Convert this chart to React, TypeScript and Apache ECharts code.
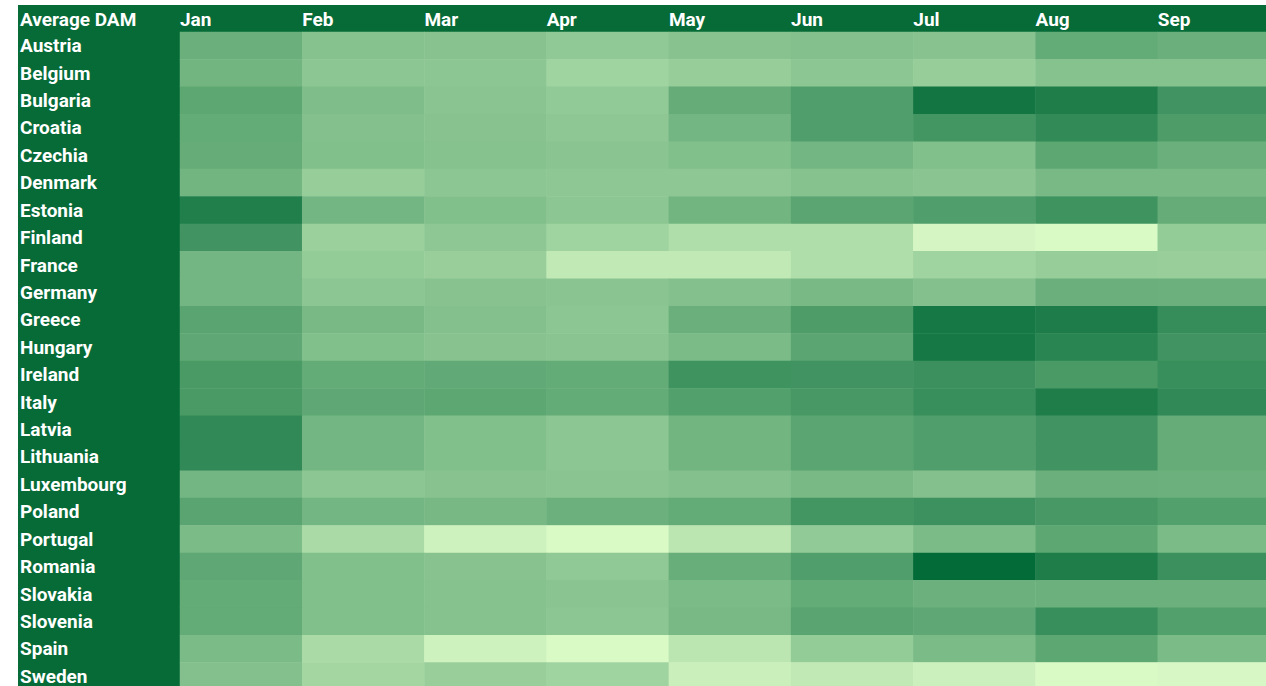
import React, { useEffect, useRef } from "react";
import * as echarts from "echarts";

const months = ["Jan", "Feb", "Mar", "Apr", "May", "Jun", "Jul", "Aug", "Sep"];
const countries = [
  "Austria", "Belgium", "Bulgaria", "Croatia", "Czechia", "Denmark", "Estonia", "Finland",
  "France", "Germany", "Greece", "Hungary", "Ireland", "Italy", "Latvia", "Lithuania",
  "Luxembourg", "Poland", "Portugal", "Romania", "Slovakia", "Slovenia", "Spain", "Sweden",
];

const austria = [84.8, 66.8, 65.4, 59.9, 65.4, 68.2, 65.4, 88.9, 84.8];
const belgium = [79.2, 62.7, 62.7, 50.3, 55.8, 62.7, 55.8, 66.8, 66.8];
const bulgaria = [93.0, 71.0, 64.1, 58.5, 87.5, 101.3, 141.3, 133.1, 111.0];
const croatia = [88.9, 68.2, 65.4, 61.3, 77.9, 101.3, 109.6, 120.6, 102.7];
const czechia = [87.5, 69.6, 66.8, 64.1, 69.6, 77.9, 69.6, 93.0, 84.8];
const denmark = [79.2, 55.8, 62.7, 61.3, 61.3, 66.8, 64.1, 75.1, 75.1];
const estonia = [131.7, 77.9, 69.6, 62.7, 79.2, 94.4, 101.3, 112.4, 87.5];
const finland = [111.0, 53.0, 61.3, 50.3, 39.2, 39.2, 15.8, 13.0, 57.2];
const france = [77.9, 57.2, 54.4, 28.2, 28.2, 39.2, 50.3, 55.8, 54.4];
const germany = [77.9, 62.7, 65.4, 64.1, 68.2, 75.1, 68.2, 84.8, 83.4];
const greece = [95.8, 75.1, 68.2, 62.7, 84.8, 102.7, 138.6, 134.4, 117.9];
const hungary = [91.7, 69.6, 65.4, 64.1, 73.7, 94.4, 138.6, 126.2, 111.0];
const ireland = [105.5, 88.9, 90.3, 88.9, 112.4, 111.0, 115.1, 105.5, 116.5];
const italy = [105.5, 91.7, 93.0, 88.9, 99.9, 106.8, 116.5, 133.1, 122.0];
const latvia = [122.0, 77.9, 69.6, 62.7, 79.2, 94.4, 101.3, 111.0, 87.5];
const lithuania = [122.0, 77.9, 69.6, 62.7, 79.2, 94.4, 101.3, 111.0, 87.5];
const luxembourg = [77.9, 62.7, 65.4, 64.1, 68.2, 75.1, 68.2, 84.8, 83.4];
const poland = [95.8, 77.9, 76.5, 83.4, 88.9, 109.6, 113.7, 106.8, 99.9];
const portugal = [73.7, 43.4, 19.9, 13.0, 32.3, 58.5, 73.7, 93.0, 73.7];
const romania = [91.7, 69.6, 65.4, 59.9, 86.1, 101.3, 151.0, 133.1, 115.1];
const slovakia = [88.9, 69.6, 66.8, 64.1, 73.7, 88.9, 83.4, 83.4, 83.4];
const slovenia = [88.9, 69.6, 66.8, 62.7, 75.1, 95.8, 91.7, 116.5, 99.9];
const spain = [73.7, 43.4, 19.9, 13.0, 32.3, 57.2, 73.7, 93.0, 73.7];
const sweden = [68.2, 47.5, 54.4, 50.3, 22.7, 28.2, 21.3, 13.0, 14.4];

const rows = [
  austria, belgium, bulgaria, croatia, czechia, denmark, estonia, finland,
  france, germany, greece, hungary, ireland, italy, latvia, lithuania,
  luxembourg, poland, portugal, romania, slovakia, slovenia, spain, sweden,
];

const DARK = "#066B37";
const FONT = "'Roboto', 'DejaVu Sans', sans-serif";

export default function App() {
  const ref = useRef<HTMLDivElement>(null);
  useEffect(() => {
    if (!ref.current) return;
    const chart = echarts.init(ref.current, null, { renderer: "svg" });
    const data: number[][] = [];
    rows.forEach((r, yi) => r.forEach((v, xi) => data.push([xi, yi, v])));
    chart.setOption({
      animation: false,
      backgroundColor: "#ffffff",
      title: {
        text: "Average DAM",
        left: 20,
        top: 10,
        padding: 0,
        textStyle: { color: "#ffffff", fontFamily: FONT, fontWeight: "bold", fontSize: 19 },
      },
      graphic: [
        { type: "rect", z: -10, shape: { x: 18, y: 5, width: 1260, height: 27 }, style: { fill: DARK } },
        { type: "rect", z: -10, shape: { x: 18, y: 5, width: 162, height: 690 }, style: { fill: DARK } },
      ],
      grid: {
        left: 180,
        top: 32,
        width: 1100,
        height: 658,
        containLabel: false,
        outerBoundsMode: "none",
      },
      xAxis: [
        { type: "category", data: months, show: false },
        {
          type: "value",
          position: "top",
          min: 0,
          max: 9,
          interval: 1,
          axisLine: { show: false },
          axisTick: { show: false },
          splitLine: { show: false },
          axisLabel: {
            align: "left",
            margin: 3,
            color: "#ffffff",
            fontFamily: FONT,
            fontWeight: "bold",
            fontSize: 19,
            formatter: (v: number) => months[v] ?? "",
          },
        },
      ],
      yAxis: {
        type: "category",
        data: countries,
        inverse: true,
        axisLine: { show: false },
        axisTick: { show: false },
        splitLine: { show: false },
        axisLabel: {
          align: "left",
          margin: 160,
          color: "#ffffff",
          fontFamily: FONT,
          fontWeight: "bold",
          fontSize: 19,
        },
      },
      visualMap: {
        show: false,
        min: 13,
        max: 151,
        inRange: { color: ["#D9F9C5", "#036B38"] },
      },
      series: [
        {
          type: "heatmap",
          xAxisIndex: 0,
          yAxisIndex: 0,
          data,
          itemStyle: { borderWidth: 0 },
          emphasis: { disabled: true },
        },
      ],
    });
    return () => chart.dispose();
  }, []);
  return (
    <div
      ref={ref}
      style={{ position: "fixed", left: 0, top: 0, width: 1266, height: 686 }}
    />
  );
}
